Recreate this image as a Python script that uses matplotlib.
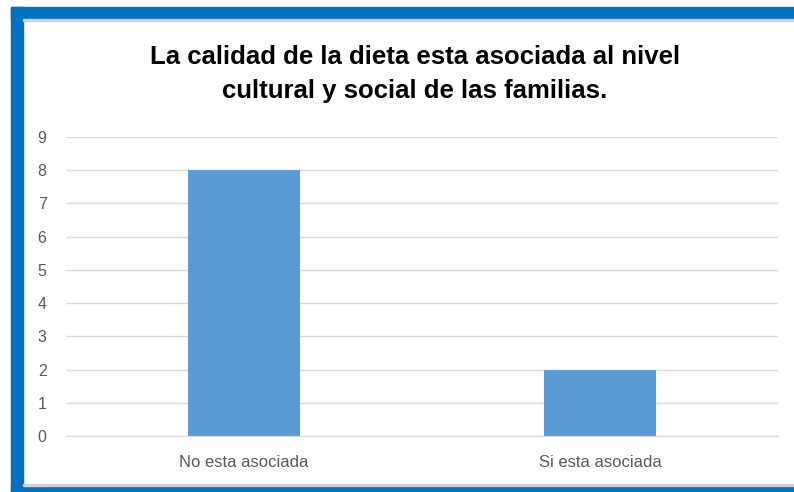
import matplotlib
matplotlib.use("Agg")
import matplotlib.pyplot as plt
from matplotlib.patches import Rectangle

categories = ["No esta asociada", "Si esta asociada"]
values = [8, 2]
yticks = list(range(0, 10))
title = "La calidad de la dieta esta asociada al nivel\ncultural y social de las familias."

W, H = 794, 492
fig = plt.figure(figsize=(W / 100, H / 100), dpi=100)
plt.rcParams["font.family"] = ["Liberation Sans", "DejaVu Sans"]

# marco azul de la captura (arriba, izquierda, abajo)
blue = "#0070C0"
def px_rect(x0, y0, x1, y1, color):
    fig.patches.append(Rectangle((x0 / W, 1 - y1 / H), (x1 - x0) / W, (y1 - y0) / H,
                                 transform=fig.transFigure, color=color, zorder=0))
px_rect(11, 7, W, 19, blue)
px_rect(11, 7, 23, H, blue)
px_rect(11, 486, W, H, blue)
px_rect(23, 19, W, 21, "#D0D0D0")
px_rect(23, 484, W, 486, "#D0D0D0")

ax = fig.add_axes([66 / W, 1 - 436 / H, (778 - 66) / W, (436 - 137) / H])
x = range(len(categories))
ax.bar(x, values, width=0.315, color="#5B9BD5", zorder=2)
ax.set_xlim(-0.5, 1.5)
ax.set_ylim(0, 9)
ax.set_yticks(yticks)
ax.set_xticks(list(x))
ax.set_xticklabels(categories)
ax.grid(axis="y", color="#D9D9D9", lw=1, zorder=0)
for s in ["top", "right", "left"]:
    ax.spines[s].set_visible(False)
ax.spines["bottom"].set_color("#D9D9D9")
ax.tick_params(length=0, colors="#595959")
ax.tick_params(axis="y", pad=14, labelsize=11.5)
ax.tick_params(axis="x", pad=14, labelsize=12)

fig.text(415 / W, 1 - 74 / H, title, ha="center", va="center", fontsize=18.5,
         fontweight="bold", color="black", linespacing=1.5)

plt.savefig("out.png", dpi=100)
plt.close()
